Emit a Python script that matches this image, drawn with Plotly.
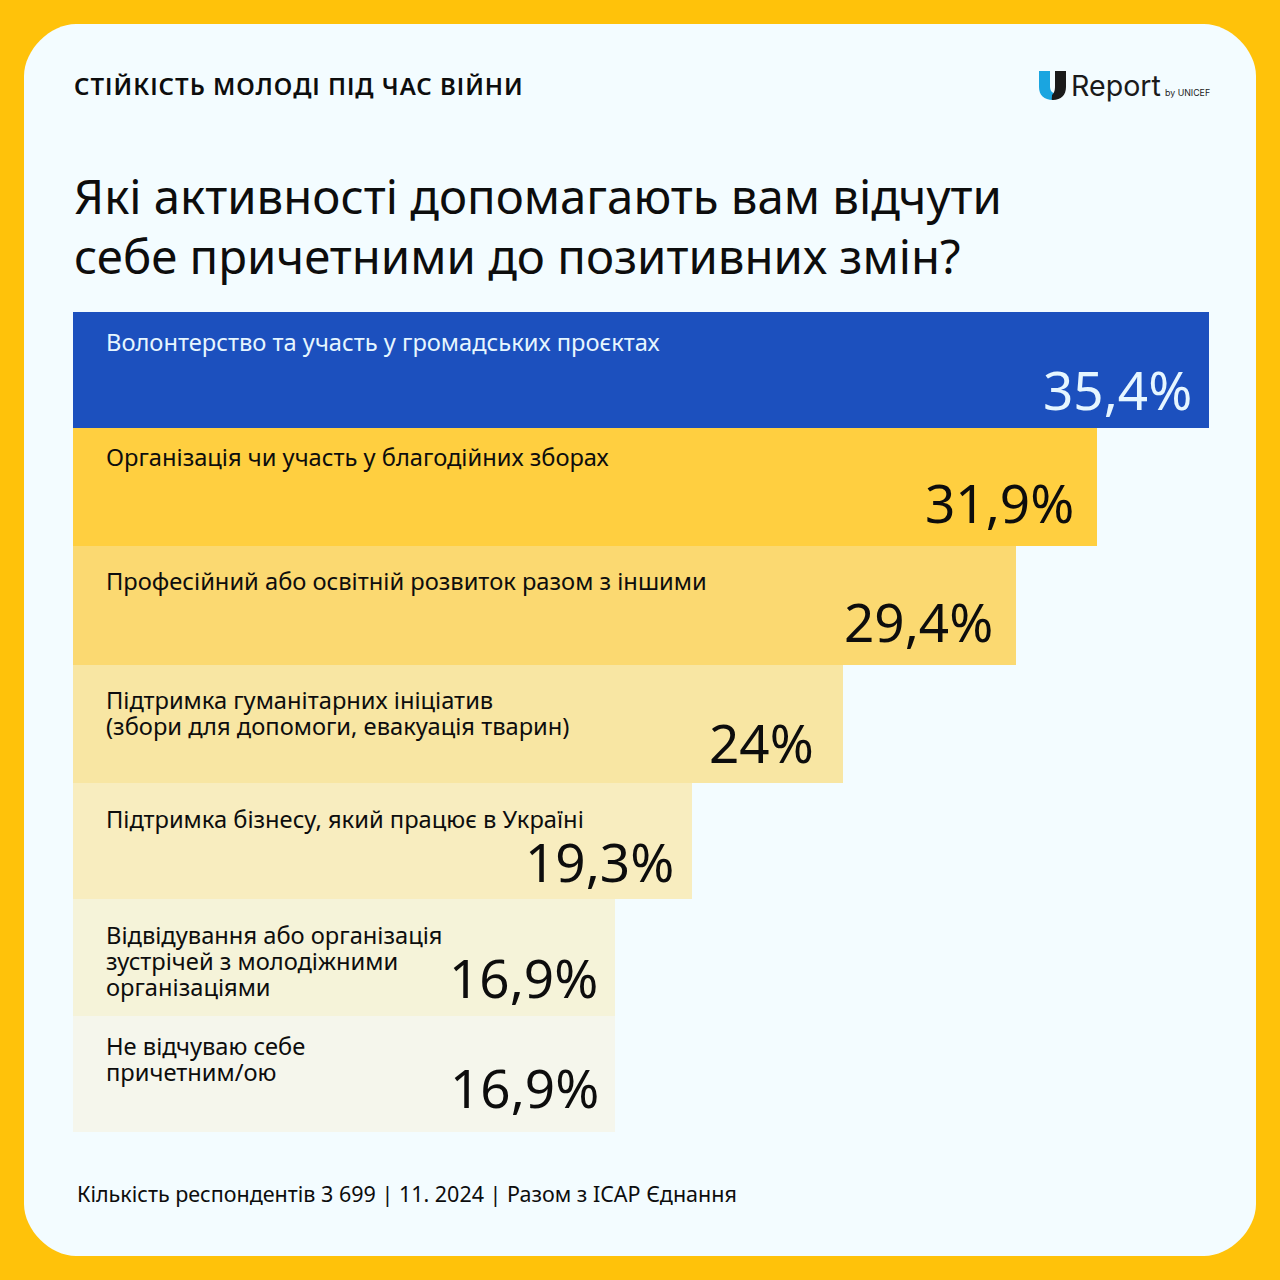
import plotly.graph_objects as go

W = 1280
H = 1280

kicker = "СТІЙКІСТЬ МОЛОДІ ПІД ЧАС ВІЙНИ"
title_lines = ["Які активності допомагають вам відчути", "себе причетними до позитивних змін?"]
footer = "Кількість респондентів 3 699 | 11. 2024 | Разом з ICAP Єднання"

categories = [
    "Волонтерство та участь у громадських проєктах",
    "Організація чи участь у благодійних зборах",
    "Професійний або освітній розвиток разом з іншими",
    "Підтримка гуманітарних ініціатив<br>(збори для допомоги, евакуація тварин)",
    "Підтримка бізнесу, який працює в Україні",
    "Відвідування або організація<br>зустрічей з молодіжними<br>організаціями",
    "Не відчуваю себе<br>причетним/ою",
]
values = [35.4, 31.9, 29.4, 24, 19.3, 16.9, 16.9]
value_labels = ["35,4%", "31,9%", "29,4%", "24%", "19,3%", "16,9%", "16,9%"]

bar_colors = ["#1C50BE", "#FFCF40", "#FBD971", "#F8E6A3", "#F8EDBF", "#F5F3D9", "#F5F6EC"]
text_colors = ["#E6F6FF", "#0D0D0D", "#0D0D0D", "#0D0D0D", "#0D0D0D", "#0D0D0D", "#0D0D0D"]

# the rows are not quite the same height in the picture
row_heights = [116, 118, 119, 118, 116, 117, 116]

# where the picture puts the text, in pixels from the top of the page
label_first_y = [341.5, 456.5, 580.5, 699.5, 818.5, 934.5, 1045.5]
value_mid_y = [389, 502, 621, 742, 861, 977, 1087]
value_right_gap = [16, 22, 22, 28, 17, 16, 15]

FONT = "Noto Sans"
DARK = "#0D0D0D"


def px(x):
    return x / W


def py(y):
    return 1 - y / H


def path(points):
    # "M", x, y style lists in pixels turned into paper coordinates
    out = []
    for cmd, coords in points:
        pairs = [f"{px(coords[i]):.5f},{py(coords[i + 1]):.5f}" for i in range(0, len(coords), 2)]
        out.append(cmd + " " + " ".join(pairs))
    return " ".join(out) + " Z"


def text(x, y, s, size, color=DARK, anchor="left", weight=None, family=FONT):
    return dict(
        x=px(x), y=py(y), xref="paper", yref="paper", text=s, showarrow=False,
        xanchor=anchor, yanchor="middle", borderpad=0,
        font=dict(family=family, size=size, color=color, weight=weight),
    )


row_mid = [sum(row_heights[:i]) + row_heights[i] / 2 for i in range(len(row_heights))]

fig = go.Figure()
fig.add_trace(go.Bar(
    x=values, y=row_mid, width=row_heights, orientation="h",
    marker=dict(color=bar_colors, line=dict(width=0)),
    hovertext=categories, hoverinfo="text+x",
))

# kicker gets 1px letter spacing in post_script, it grows around its middle
annotations = [text(88, 86, kicker, 24, weight=600)]
annotations += [text(73, 196, title_lines[0], 47.3), text(73, 255, title_lines[1], 47.3)]
annotations.append(text(76, 1193, footer, 21.5))
annotations.append(text(1070, 86, "Report", 28.6, color="#1A1A1A", family="Inter"))
annotations.append(text(1164, 92, "by UNICEF", 8.8, color="#1A1A1A", family="Inter"))

for i, cat in enumerate(categories):
    for j, line in enumerate(cat.split("<br>")):
        annotations.append(text(105, label_first_y[i] + 26 * j, line, 23.7, color=text_colors[i]))
    annotations.append(dict(
        x=values[i], y=py(value_mid_y[i]), xref="x", yref="paper", text=value_labels[i],
        showarrow=False, xanchor="right", yanchor="middle", xshift=-value_right_gap[i], borderpad=0,
        font=dict(family=FONT, size=53, color=text_colors[i]),
    ))

r = 52
card = path([
    ("M", [24 + r, 24]), ("L", [1256 - r, 24]),
    ("C", [1256 - r / 2, 24, 1256, 24 + r / 2, 1256, 24 + r]), ("L", [1256, 1256 - r]),
    ("C", [1256, 1256 - r / 2, 1256 - r / 2, 1256, 1256 - r, 1256]), ("L", [24 + r, 1256]),
    ("C", [24 + r / 2, 1256, 24, 1256 - r / 2, 24, 1256 - r]), ("L", [24, 24 + r]),
    ("C", [24, 24 + r / 2, 24 + r / 2, 24, 24 + r, 24]),
])
logo_blue = path([
    ("M", [1039, 71]), ("L", [1050, 71]), ("L", [1050, 86]),
    ("C", [1050, 91, 1052, 93, 1056, 94]), ("L", [1053, 100]),
    ("C", [1044, 100, 1039, 95, 1039, 87]),
])
logo_black = path([
    ("M", [1055, 71]), ("L", [1066, 71]), ("L", [1066, 87]),
    ("C", [1066, 95, 1061, 100, 1053, 100]), ("C", [1051, 100, 1052, 99, 1052, 95]),
    ("C", [1054, 93, 1055, 91, 1055, 86]),
])
shapes = [
    dict(type="path", xref="paper", yref="paper", path=card, fillcolor="#F3FCFF", line=dict(width=0), layer="below"),
    dict(type="path", xref="paper", yref="paper", path=logo_blue, fillcolor="#1AA5E0", line=dict(width=0), layer="below"),
    dict(type="path", xref="paper", yref="paper", path=logo_black, fillcolor="#1A1A1A", line=dict(width=0), layer="below"),
]

fig.update_layout(
    width=W, height=H, autosize=False,
    margin=dict(l=0, r=0, t=0, b=0, pad=0),
    paper_bgcolor="#FFC20A", plot_bgcolor="rgba(0,0,0,0)",
    bargap=0, showlegend=False,
    xaxis=dict(domain=[px(73), px(1209)], range=[0, 35.4], visible=False, fixedrange=True),
    yaxis=dict(domain=[py(1132), py(312)], range=[sum(row_heights), 0], visible=False, fixedrange=True),
    annotations=annotations, shapes=shapes,
)

post = """
document.body.style.margin = '0';
document.querySelectorAll('.annotation-text').forEach(function (t) {
    if (t.textContent.indexOf('СТІЙКІСТЬ') === 0) { t.style.letterSpacing = '1px'; }
});
"""
fig.write_html("out.html", post_script=post, config={"displayModeBar": False})
